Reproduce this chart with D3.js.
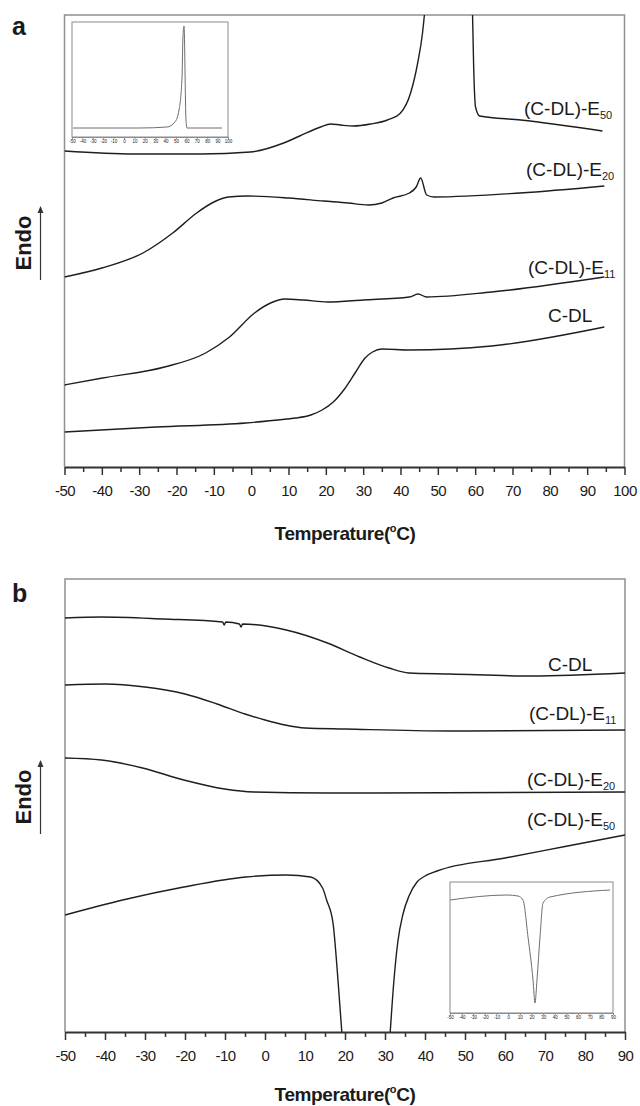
<!DOCTYPE html>
<html><head><meta charset="utf-8">
<script src="https://cdn.jsdelivr.net/npm/d3@7"></script>
<style>
body{margin:0;background:#fff}
svg{display:block}
text{font-family:"Liberation Sans",Arial,sans-serif;fill:#1a1a1a}
</style>
</head><body>
<svg id="c" width="640" height="1106"></svg>
<script>
// ---------- Panel a (heating) : temperature (°C) and heat flow (a.u.) ----------
const aE50T = [-50, -31.5, -13.6, -0.2, 8.7, 13, 18.6, 21.3, 23.9, 27.4, 32, 36.5, 40, 42.7, 44.6, 45.9, 46.4, 50, 55, 58.6, 59.3, 59.6, 60.1, 61.2, 72.2, 94.1];
const aE50V = [316, 313, 313, 315, 324, 331, 340, 343, 342, 341, 343, 347, 354, 374, 404, 434, 452, 700, 1000, 700, 452, 400, 360, 351, 347, 336];
const aE20T = [-50, -40, -29, -21, -14.6, -10, -6, -1, 10, 19.4, 26, 31.4, 35, 38, 42.4, 44.2, 45.4, 47, 49, 72, 94.6];
const aE20V = [190, 199, 214, 234, 254, 265, 270, 271, 269, 266, 264, 262, 264, 269, 274, 280, 289, 272, 270, 274, 281];
const aE11T = [-50, -39.8, -23.2, -12.2, -5.8, 0.9, 5.2, 9, 14, 20.5, 30, 42.4, 44.7, 47, 64.4, 94.6];
const aE11V = [82, 89, 100, 114, 130, 154, 164, 168, 167, 165, 167, 170, 173, 170, 175, 190];
const aCDLT = [-50, -25.5, -1.4, 9.6, 12, 16, 19, 22, 25, 28, 30.5, 32.5, 35, 42.4, 64.4, 94.6];
const aCDLV = [35, 40, 44, 48, 49, 52, 57, 65, 78, 95, 109, 115, 118, 117, 121, 140];
// inset of panel a
const aInsetT = [-49, 15.4, 41.3, 49, 52.9, 55.8, 56.7, 57.7, 59.6, 60.6, 94.2];
const aInsetV = [9, 9, 10, 15, 27, 60, 100, 111, 17, 9, 9];

// ---------- Panel b (cooling) ----------
const bCDLT = [-50, -40.9, -25.4, -10.6, -10.2, -9.8, -6.4, -6, -5.6, 5.3, 15.6, 23.7, 31, 36, 46.2, 66.7, 90];
const bCDLV = [414, 415, 413, 410, 407, 410, 408, 405, 408, 402, 389, 375, 364, 359, 358, 356, 359];
const bE11T = [-50, -40, -30, -20, -12, -5, 0, 5, 10, 20, 46, 90];
const bE11V = [347, 348, 345, 338, 328, 318, 312, 307, 304, 303, 301, 302];
const bE20T = [-50, -40.9, -30.6, -20.3, -10.1, -2.8, 15.4, 90];
const bE20V = [274, 272, 264, 252, 243, 240, 239, 240];
const bE50T = [-50, -35.6, -20.3, -4.8, 5.3, 11.4, 14.4, 15.4, 17, 18.3, 19.2, 25, 31.3, 32.2, 33.2, 34.5, 36, 38, 40, 43, 60, 75, 90];
const bE50V = [117, 132, 145, 155, 157, 155, 144, 132, 109, 49, 0, -400, 0, 50, 90, 118, 136, 150, 156, 161, 174, 185.5, 197];
// inset of panel b
const bInsetT = [-50, -1, 8.4, 12.7, 17, 21.3, 23, 24.7, 27.3, 29.9, 35.9, 87.4];
const bInsetV = [113, 118, 117, 113, 76, 33, 10, 33, 76, 110, 116, 123];

// ---------- tick labels ----------
const aTicks = [-50, -40, -30, -20, -10, 0, 10, 20, 30, 40, 50, 60, 70, 80, 90, 100];
const bTicks = [-50, -40, -30, -20, -10, 0, 10, 20, 30, 40, 50, 60, 70, 80, 90];

const svg = d3.select('#c');
const FONT = '"Liberation Sans",Arial,sans-serif';

function drawPanel(p) {
  const g = svg.append('g');
  const x = d3.scaleLinear().domain([p.ticks[0], p.ticks[p.ticks.length - 1]]).range([p.left, p.right]);
  const y = d3.scaleLinear().domain(p.yDomain).range([p.bottom, p.top]);
  svg.append('clipPath').attr('id', 'clip' + p.id).append('rect')
    .attr('x', p.left).attr('y', p.top).attr('width', p.right - p.left).attr('height', p.bottom - p.top);

  g.append('path').attr('d', `M${p.left},${p.bottom}V${p.top}H${p.right}V${p.bottom}`)
    .attr('fill', 'none').attr('stroke', '#909090').attr('stroke-width', 1.5);

  const line = d3.line().x(d => x(d[0])).y(d => y(d[1])).curve(d3.curveMonotoneX);
  p.series.forEach(s => {
    const pts = s.t.map((t, i) => [t, s.v[i]]);
    g.append('path').attr('d', line(pts)).attr('fill', 'none').attr('stroke', '#1e1e1e')
      .attr('stroke-width', 1.4).attr('clip-path', `url(#clip${p.id})`);
    const tx = g.append('text').attr('x', s.lx).attr('y', s.ly).attr('font-size', 19);
    tx.append('tspan').text(s.name);
    if (s.sub) tx.append('tspan').attr('font-size', 11).attr('dy', 4).text(s.sub);
  });

  // axis
  const ax = g.append('g').attr('transform', `translate(0,${p.bottom})`)
    .call(d3.axisBottom(x).tickValues(p.ticks).tickSize(8).tickSizeOuter(0).tickPadding(10).tickFormat(d => String(d)));
  ax.attr('font-family', FONT).attr('font-size', 15);
  ax.select('.domain').attr('stroke', '#333').attr('stroke-width', 2);
  ax.selectAll('.tick line').attr('stroke', '#333').attr('stroke-width', 1.5);
  ax.selectAll('.tick text').attr('fill', '#1a1a1a').style('letter-spacing', '-0.5px');
  const minor = p.ticks.slice(0, -1).map(t => t + 5);
  const mx = g.append('g').attr('transform', `translate(0,${p.bottom})`)
    .call(d3.axisBottom(x).tickValues(minor).tickSize(5).tickSizeOuter(0).tickFormat(''));
  mx.select('.domain').remove();
  mx.selectAll('.tick line').attr('stroke', '#333').attr('stroke-width', 1.5);

  // title
  const tt = g.append('text').attr('x', p.titleX).attr('y', p.titleY).attr('text-anchor', 'middle')
    .attr('font-size', 19).attr('font-weight', 'bold').style('letter-spacing', '-0.4px');
  tt.append('tspan').text('Temperature(');
  tt.append('tspan').attr('font-size', 11).attr('dy', -8).text('o');
  tt.append('tspan').attr('dy', 8).text('C)');

  // Endo
  g.append('text').attr('transform', `translate(31,${p.endoY}) rotate(-90)`).attr('text-anchor', 'middle')
    .attr('font-size', 22).attr('font-weight', 'bold').text('Endo');
  g.append('line').attr('x1', 40.5).attr('x2', 40.5).attr('y1', p.endoY + 37).attr('y2', p.endoY - 32)
    .attr('stroke', '#333').attr('stroke-width', 1.2);
  g.append('path').attr('d', `M37.5,${p.endoY - 30}L40.5,${p.endoY - 37}L43.5,${p.endoY - 30}Z`).attr('fill', '#333');

  // panel letter
  g.append('text').attr('x', p.letterX).attr('y', p.letterY).attr('font-size', 25).attr('font-weight', 'bold').text(p.letter);
}

function drawInset(q) {
  const g = svg.append('g');
  const x = d3.scaleLinear().domain([q.ticks[0], q.ticks[q.ticks.length - 1]]).range([q.left, q.right]);
  const y = d3.scaleLinear().domain(q.yDomain).range([q.bottom, q.top]);
  g.append('rect').attr('x', q.left).attr('y', q.top).attr('width', q.right - q.left).attr('height', q.bottom - q.top)
    .attr('fill', '#fff').attr('stroke', '#8a8a8a').attr('stroke-width', 1);
  const line = d3.line().x(d => x(d[0])).y(d => y(d[1])).curve(d3.curveMonotoneX);
  g.append('path').attr('d', line(q.t.map((t, i) => [t, q.v[i]]))).attr('fill', 'none')
    .attr('stroke', '#6e6e6e').attr('stroke-width', 1);
  const ax = g.append('g').attr('transform', `translate(0,${q.bottom})`)
    .call(d3.axisBottom(x).tickValues(q.ticks).tickSize(2).tickSizeOuter(0).tickPadding(1).tickFormat(d => String(d)));
  ax.attr('font-family', FONT).attr('font-size', 4.5);
  ax.select('.domain').attr('stroke', '#8a8a8a');
  ax.selectAll('.tick line').attr('stroke', '#8a8a8a');
  ax.selectAll('.tick text').attr('fill', '#888');
}

drawPanel({
  id: 'a', letter: 'a', letterX: 12, letterY: 35,
  left: 64.5, right: 624.5, top: 15, bottom: 467, yDomain: [0, 452], ticks: aTicks,
  titleX: 345, titleY: 540, endoY: 243,
  series: [
    { name: '(C-DL)-E', sub: '50', t: aE50T, v: aE50V, lx: 524, ly: 115 },
    { name: '(C-DL)-E', sub: '20', t: aE20T, v: aE20V, lx: 526, ly: 176 },
    { name: '(C-DL)-E', sub: '11', t: aE11T, v: aE11V, lx: 528, ly: 274 },
    { name: 'C-DL', t: aCDLT, v: aCDLV, lx: 548, ly: 322 }
  ]
});
drawInset({ left: 72, right: 228, top: 22, bottom: 137, yDomain: [0, 115], ticks: aTicks, t: aInsetT, v: aInsetV });

drawPanel({
  id: 'b', letter: 'b', letterX: 12, letterY: 602,
  left: 65, right: 625, top: 579, bottom: 1032, yDomain: [0, 453], ticks: bTicks,
  titleX: 345, titleY: 1101, endoY: 797,
  series: [
    { name: 'C-DL', t: bCDLT, v: bCDLV, lx: 548, ly: 671 },
    { name: '(C-DL)-E', sub: '11', t: bE11T, v: bE11V, lx: 529, ly: 720 },
    { name: '(C-DL)-E', sub: '20', t: bE20T, v: bE20V, lx: 527, ly: 786 },
    { name: '(C-DL)-E', sub: '50', t: bE50T, v: bE50V, lx: 527, ly: 826 }
  ]
});
drawInset({ left: 450, right: 613, top: 882, bottom: 1013, yDomain: [0, 131], ticks: bTicks, t: bInsetT, v: bInsetV });
</script>
</body></html>
